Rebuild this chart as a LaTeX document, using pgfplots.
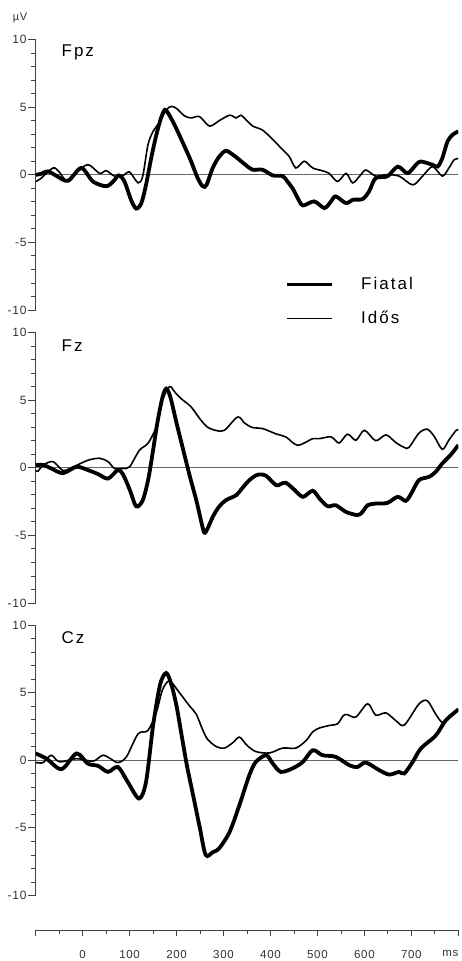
\documentclass[border=0pt]{standalone}
\usepackage{pgfplots}
\pgfplotsset{compat=1.18}
\usepackage{fontspec}
\setmainfont{Liberation Sans}
\newfontfamily\labfont[LetterSpace=6]{Liberation Sans}
\newfontfamily\ttlfont[LetterSpace=12]{Liberation Sans}

\pgfplotstableread{
x y
-100 0.0
-90 0.05
-74 0.25
-55 -0.1
-31 -0.45
-3 0.5
22 -0.5
50 -0.85
65 -0.5
77 -0.05
89 -0.5
103 -1.85
114 -2.5
125 -2.1
135 -0.74
146 1.23
157 2.96
167 4.2
175 4.8
183 4.5
199 3.45
228 1.23
245 -0.25
256 -0.86
264 -0.74
277 0.5
291 1.35
305 1.77
320 1.48
334 1.1
348 0.7
362 0.37
383 0.37
405 -0.05
426 -0.1
436 -0.5
447 -1.0
458 -1.72
469 -2.27
493 -1.97
515 -2.46
529 -1.97
539 -1.6
561 -2.1
575 -1.85
596 -1.8
610 -1.23
624 -0.25
649 -0.12
671 0.6
692 0.12
710 0.74
720 0.98
745 0.74
756 0.6
766 1.23
777 2.46
788 2.96
800 3.2
}\pOneF

\pgfplotstableread{
x y
-100 -0.5
-90 -0.3
-63 0.5
-50 0.2
-35 -0.4
-15 0.1
11 0.75
36 0.1
50 0.3
68 -0.1
86 -0.05
100 0.2
118 -0.6
128 -0.1
139 2.2
150 3.2
164 3.9
178 4.8
189 5.05
200 4.9
217 4.35
231 4.2
249 4.3
270 3.6
291 4.0
313 4.4
327 4.2
337 4.4
350 4.0
362 3.6
383 3.3
405 2.6
426 1.85
440 1.35
454 0.5
472 1.0
490 0.5
510 0.3
525 0.1
543 -0.5
561 0.1
575 -0.6
590 -0.1
603 0.35
624 -0.1
646 0.0
674 -0.1
703 -0.75
724 -0.1
745 0.6
766 -0.1
780 0.5
791 1.1
800 1.2
}\pOneI

\pgfplotstableread{
x y
-100 0.2
-84 0.2
-67 -0.05
-42 -0.4
-13 0.07
11 -0.17
33 -0.47
54 -0.8
75 -0.17
86 -0.5
100 -1.6
114 -2.85
128 -2.4
140 -0.8
150 1.3
160 3.5
170 5.2
178 5.85
187 5.2
200 3.3
215 1.2
228 -0.6
242 -2.4
252 -3.9
259 -4.8
266 -4.5
277 -3.64
290 -2.9
305 -2.4
327 -2.03
340 -1.5
355 -0.92
370 -0.55
380 -0.5
391 -0.6
412 -1.29
422 -1.2
433 -1.11
450 -1.6
469 -2.15
490 -1.7
505 -2.3
522 -2.85
539 -2.77
561 -3.27
585 -3.5
595 -3.3
607 -2.77
624 -2.65
649 -2.6
671 -2.15
688 -2.45
700 -1.9
716 -0.92
738 -0.67
752 -0.3
766 0.32
785 1.0
800 1.68
}\pTwoF

\pgfplotstableread{
x y
-100 -0.2
-95 -0.25
-84 0.2
-63 0.45
-42 -0.2
-21 0.05
11 0.55
36 0.7
54 0.45
68 -0.05
86 -0.05
100 0.07
121 1.3
139 1.8
157 3.05
170 5.0
185 6.0
196 5.6
210 5.1
231 4.5
250 3.6
266 3.0
285 2.75
302 2.77
330 3.75
345 3.3
362 2.97
383 2.9
412 2.5
433 2.27
458 1.66
490 2.15
504 2.15
529 2.28
546 1.83
564 2.48
582 2.03
600 2.77
624 2.0
646 2.43
667 1.86
685 1.5
695 1.5
716 2.55
734 2.85
749 2.3
766 1.36
780 2.05
795 2.75
800 2.8
}\pTwoI

\pgfplotstableread{
x y
-100 0.5
-77 0.12
-45 -0.66
-13 0.5
11 -0.25
33 -0.42
54 -0.86
75 -0.5
96 -1.6
120 -2.83
135 -1.6
150 2.56
165 5.6
178 6.45
189 5.6
200 4.0
210 2.0
221 -0.2
228 -1.4
235 -2.55
249 -4.9
262 -7.0
277 -6.8
291 -6.5
313 -5.3
334 -3.3
355 -1.1
369 -0.12
391 0.37
405 -0.25
422 -0.86
447 -0.6
469 -0.12
490 0.74
511 0.37
539 0.25
568 -0.37
585 -0.5
603 -0.17
632 -0.74
653 -1.06
674 -0.86
685 -0.98
703 -0.12
720 0.86
752 1.83
773 2.93
800 3.75
}\pThreeF

\pgfplotstableread{
x y
-100 -0.17
-84 -0.17
-67 0.37
-49 -0.12
-13 0.12
22 -0.07
43 0.37
60 0.1
75 -0.17
93 0.24
118 1.95
139 2.2
157 3.54
170 5.2
185 5.86
206 5.0
228 4.0
242 3.4
255 2.3
266 1.55
285 1.0
302 0.9
320 1.3
334 1.71
350 1.1
369 0.64
398 0.54
426 0.9
454 0.9
476 1.46
490 2.1
504 2.38
525 2.57
543 2.7
555 3.3
564 3.37
582 3.2
607 4.18
624 3.34
646 3.5
667 2.93
685 2.6
716 4.15
734 4.4
752 3.4
766 2.8
777 3.17
800 3.8
}\pThreeI

\tikzset{
  thickl/.style={line width=3.8pt, black, smooth, tension=0.5},
  thinl/.style={line width=1.6pt, black, smooth, tension=0.5},
  zerol/.style={line width=0.8pt, black!60},
  ttl/.style={anchor=west, font=\ttlfont\fontsize{17}{17}\selectfont},
}
\pgfplotsset{
  panel/.style={
    scale only axis, width=422.6pt, height=270.5pt,
    xmin=-100, xmax=800, ymin=-10, ymax=10,
    hide x axis, axis y line*=left, clip mode=individual,
    ytick={-10,-5,0,5,10}, yticklabels={-10,-5,0,5,10},
    minor ytick={-9,-8,-7,-6,-4,-3,-2,-1,1,2,3,4,6,7,8,9},
    tick align=outside, major tick length=8pt, minor tick length=5pt,
    yticklabel style={font=\labfont\fontsize{12}{12}\selectfont, inner sep=1pt, text=black!80},
    axis line style={line width=0.9pt, black!75},
    every tick/.style={black!75, line width=0.8pt},
    every minor tick/.style={black!75, line width=0.8pt},
  },
}

\begin{document}
\begin{tikzpicture}
\useasboundingbox (0pt,0pt) rectangle (461pt,961pt);

% Panel 1: Fpz
\begin{axis}[panel, at={(35.7pt,651pt)}, anchor=south west,
  legend style={at={(0.59,0.128)}, anchor=north west, draw=none, fill=none,
    font=\ttlfont\fontsize{17}{17}\selectfont, row sep=16pt, inner sep=0pt},
  legend cell align=left,
  legend image code/.code={\draw[#1, sharp plot] (0pt,0pt) -- (45pt,0pt); \path[draw=none] (72pt,0pt) circle (0.1pt);},
]
\addplot[zerol, forget plot] coordinates {(-100,0) (800,0)};
\addplot[thinl, forget plot] table[x=x,y=y] {\pOneI};
\addplot[thickl, forget plot] table[x=x,y=y] {\pOneF};
\addlegendimage{thickl}\addlegendentry{Fiatal}
\addlegendimage{thinl}\addlegendentry{Idős}
\node[ttl] at (rel axis cs:0.053,0.954) {F\kern2pt pz};
\node[font=\labfont\fontsize{11}{11}\selectfont, text=black!80] at (rel axis cs:-0.037,1.08) {µV};
\end{axis}

% Panel 2: Fz
\begin{axis}[panel, at={(35.7pt,358pt)}, anchor=south west]
\addplot[zerol] coordinates {(-100,0) (800,0)};
\addplot[thinl] table[x=x,y=y] {\pTwoI};
\addplot[thickl] table[x=x,y=y] {\pTwoF};
\node[ttl] at (rel axis cs:0.053,0.952) {F\kern2pt z};
\end{axis}

% Panel 3: Cz
\begin{axis}[panel, at={(35.7pt,65.5pt)}, anchor=south west]
\addplot[zerol] coordinates {(-100,0) (800,0)};
\addplot[thinl] table[x=x,y=y] {\pThreeI};
\addplot[thickl] table[x=x,y=y] {\pThreeF};
\node[ttl] at (rel axis cs:0.053,0.955) {C\kern2pt z};
\end{axis}

% time axis
\begin{axis}[scale only axis, width=422.6pt, height=10pt, at={(35.7pt,31pt)}, anchor=south west,
  xmin=-100, xmax=800, ymin=0, ymax=1,
  axis x line*=bottom, axis y line=none,
  xtick={-100,0,100,200,300,400,500,600,700,800},
  xticklabels={,0,100,200,300,400,500,600,700,\makebox[0pt][r]{ms}},
  minor xtick={-50,50,150,250,350,450,550,650,750},
  tick align=outside, major tick length=6pt, minor tick length=3.5pt,
  axis line style={line width=0.9pt, black!75},
  every tick/.style={black!75, line width=0.8pt},
  every minor tick/.style={black!75, line width=0.8pt},
  xticklabel style={font=\labfont\fontsize{11.5}{11.5}\selectfont, yshift=-11pt, text=black!80},
]
\addplot[draw=none] coordinates {(0,0)};
\end{axis}
\end{tikzpicture}
\end{document}
